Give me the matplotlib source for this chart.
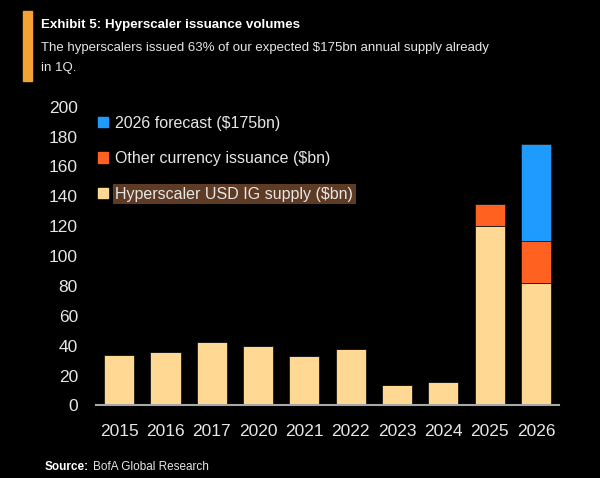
import numpy as np
import matplotlib.pyplot as plt
from matplotlib.patches import Patch, Rectangle

plt.rcParams['font.family'] = ['Liberation Sans', 'DejaVu Sans']

years = ['2015', '2016', '2017', '2020', '2021', '2022', '2023', '2024', '2025', '2026']
usd_supply = [33.5, 35.5, 42.5, 39.5, 33, 37.5, 13.5, 16, 120, 82]
other_ccy = [0, 0, 0, 0, 0, 0, 0, 0, 15, 28]
forecast = [0, 0, 0, 0, 0, 0, 0, 0, 0, 65]

c_usd = '#FFD994'
c_other = '#FF6220'
c_fc = '#1E9BFF'
bg = '#000000'
fg = '#E6E6E6'

fig = plt.figure(figsize=(6, 4.78), dpi=100, facecolor=bg)
ax = fig.add_axes([0.16, 0.1517, 0.772, 0.625], facecolor=bg)

x = np.arange(len(years))
w = 0.65
usd = np.array(usd_supply)
oth = np.array(other_ccy)
fc = np.array(forecast)
ax.bar(x, usd, w, color=c_usd, edgecolor='#1a1a1a', linewidth=0.6)
ax.bar(x, oth, w, bottom=usd, color=c_other, edgecolor='#1a1a1a', linewidth=0.6)
ax.bar(x, fc, w, bottom=usd + oth, color=c_fc, edgecolor='#1a1a1a', linewidth=0.6)

ax.set_xlim(-0.5, len(years) - 0.5)
ax.set_ylim(0, 200)
ax.set_yticks(np.arange(0, 201, 20))
ax.set_xticks(x)
ax.set_xticklabels(years)
ax.tick_params(axis='y', length=0, labelsize=12.5, labelcolor=fg, pad=13)
ax.tick_params(axis='x', length=0, labelsize=12.5, labelcolor=fg, pad=13)
for s in ['top', 'right', 'left']:
    ax.spines[s].set_visible(False)
ax.spines['bottom'].set_color('#A8A8A8')
ax.spines['bottom'].set_linewidth(1.5)

handles = [Patch(color=c_fc), Patch(color=c_other), Patch(color=c_usd)]
labels = ['2026 forecast ($175bn)', 'Other currency issuance ($bn)', 'Hyperscaler USD IG supply ($bn)']
leg = fig.legend(handles, labels, loc='upper left', bbox_to_anchor=(0.163, 0.758),
                 frameon=False, fontsize=11.5, handlelength=0.65, handleheight=0.65,
                 handletextpad=0.45, labelspacing=1.28, borderpad=0, borderaxespad=0)
for t in leg.get_texts():
    t.set_color(fg)
leg.get_texts()[2].set_bbox(dict(facecolor='#5E3B24', edgecolor='none', pad=2))

# header
fig.add_artist(Rectangle((0.038, 0.8305), 0.015, 0.146, transform=fig.transFigure,
                         color='#F5A235'))
fig.text(0.068, 0.947, 'Exhibit 5: Hyperscaler issuance volumes', color='white',
         fontsize=9.6, fontweight='bold', va='center')
fig.text(0.068, 0.900, 'The hyperscalers issued 63% of our expected $175bn annual supply already',
         color=fg, fontsize=9.5, va='center')
fig.text(0.068, 0.858, 'in 1Q.', color=fg, fontsize=9.5, va='center')

src = fig.text(0.075, 0.023, 'Source:', color='white', fontsize=8.5, fontweight='bold', va='center')
ax.annotate('BofA Global Research', xy=(1, 0.5), xycoords=src, xytext=(3, 0),
            textcoords='offset points', color=fg, fontsize=8.5, va='center', annotation_clip=False)

fig.savefig('out.png', dpi=100, facecolor=bg)
